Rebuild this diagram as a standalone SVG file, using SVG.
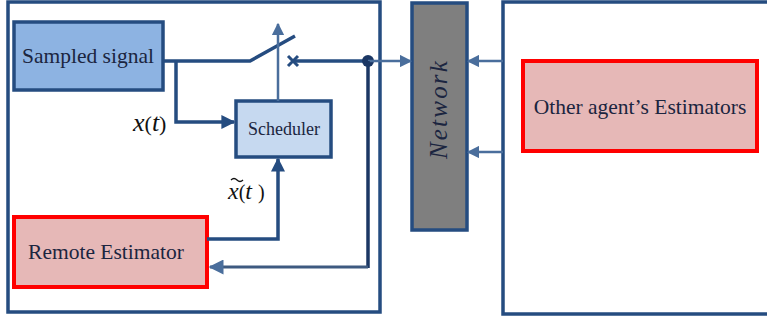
<svg xmlns="http://www.w3.org/2000/svg" width="767" height="321" viewBox="0 0 767 321">
<defs>
<style>
.frame{fill:#fff;stroke:#254C80;stroke-width:3.5}
.blue{stroke:#254C80;stroke-width:3.5;fill:none}
.lite{stroke:#4A6E9C;stroke-width:2.5;fill:none}
.lbl{fill:#1B2540;text-anchor:middle;font-family:"Liberation Serif","Times New Roman",serif}
.math{font-style:italic;fill:#111;font-family:"Liberation Serif","Times New Roman",serif}
</style>
<marker id="ah" viewBox="0 0 10 10" refX="9" refY="5" markerWidth="4" markerHeight="4" orient="auto" markerUnits="strokeWidth"><path d="M0,0L10,5L0,10z" fill="#254C80"/></marker>
<marker id="ahl" viewBox="0 0 10 10" refX="9" refY="5" markerWidth="5" markerHeight="5" orient="auto" markerUnits="strokeWidth"><path d="M0,0L10,5L0,10z" fill="#4A6E9C"/></marker>
</defs>
<g id="agent-frame"><rect class="frame" x="8" y="2" width="372" height="310"/></g>
<g id="others-frame"><rect class="frame" x="503" y="2" width="270" height="312"/></g>
<g id="sampled-signal"><rect x="14" y="22" width="149" height="68" fill="#8DB3E2" stroke="#254C80" stroke-width="3.5"/><text class="lbl" x="88" y="63" font-size="21.5">Sampled signal</text></g>
<g id="scheduler"><rect x="236" y="101" width="95" height="56" fill="#C6D9F0" stroke="#254C80" stroke-width="3.5"/><text class="lbl" x="284" y="135" font-size="18">Scheduler</text></g>
<g id="remote-estimator"><rect x="14" y="217" width="193" height="70" fill="#E6B8B7" stroke="#FF0000" stroke-width="4"/><text class="lbl" x="106" y="259" font-size="21.5">Remote Estimator</text></g>
<g id="network"><rect x="412" y="3" width="55" height="227" fill="#7F7F7F" stroke="#254C80" stroke-width="3.5"/><text class="lbl" transform="translate(447,109) rotate(-90)" font-size="25" font-style="italic" letter-spacing="2.2">Network</text></g>
<g id="other-estimators"><rect x="523" y="61" width="234" height="90" fill="#E6B8B7" stroke="#FF0000" stroke-width="4"/><text class="lbl" x="640" y="114" font-size="21.5">Other agent’s Estimators</text></g>
<text class="math" x="133" y="131" font-size="26">x<tspan font-style="normal" font-size="22">(</tspan>t<tspan font-style="normal" font-size="22">)</tspan></text>
<text class="math" x="228" y="199" font-size="24">x<tspan font-style="normal" font-size="20">(</tspan>t <tspan font-style="normal" font-size="20">)</tspan></text>
<path d="M231,180q3,-3 6,0t6,0" fill="none" stroke="#111" stroke-width="1.3"/>
<g id="connectors">
<polyline class="blue" points="163,61 250,61 295,36"/>
<line class="lite" x1="278" y1="101" x2="278" y2="24" marker-end="url(#ahl)"/>
<path d="M288,56L298,66M288,66L298,56" stroke="#254C80" stroke-width="3"/>
<line class="blue" x1="293" y1="61" x2="368" y2="61"/>
<circle cx="368" cy="61" r="6" fill="#1B3764"/>
<line class="lite" x1="368" y1="61" x2="411" y2="61" marker-end="url(#ahl)"/>
<line x1="368" y1="61" x2="368" y2="268" stroke="#1B3764" stroke-width="3.5"/>
<line x1="368" y1="267" x2="210" y2="267" stroke="#3E5A80" stroke-width="3" marker-end="url(#ahl)"/>
<polyline class="blue" points="176,61 176,122 234,122" marker-end="url(#ah)"/>
<polyline class="blue" points="207,239 278,239 278,159" marker-end="url(#ah)"/>
<line class="lite" x1="503" y1="61" x2="468" y2="61" marker-end="url(#ahl)"/>
<line class="lite" x1="503" y1="152" x2="468" y2="152" stroke-width="3.5" marker-end="url(#ahl)"/>
</g>
</svg>
